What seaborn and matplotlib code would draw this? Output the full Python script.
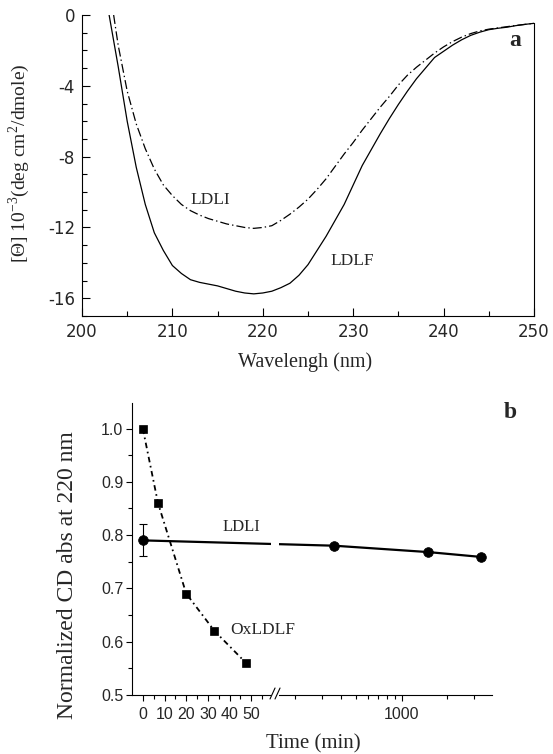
import numpy as np
import matplotlib
matplotlib.use("Agg")
import matplotlib.pyplot as plt
from matplotlib.patches import Rectangle
from matplotlib.ticker import FixedLocator, NullFormatter
import seaborn as sns

# --- panel a: CD spectra ---
wl_ldlf = [203, 204, 205, 206, 207, 208, 209, 210, 211, 212, 213, 214, 215, 216,
           217, 218, 219, 220, 221, 222, 223, 224, 225, 226, 227, 228, 229, 230,
           231, 232, 233, 234, 235, 236, 237, 238, 239, 240, 241, 242, 243, 244,
           245, 246, 247, 248, 249, 250]
cd_ldlf = [0.0, -2.9, -6.0, -8.6, -10.7, -12.3, -13.3, -14.15, -14.6, -14.95, -15.1,
           -15.2, -15.3, -15.45, -15.6, -15.7, -15.75, -15.7, -15.6, -15.4, -15.15,
           -14.7, -14.1, -13.3, -12.5, -11.6, -10.7, -9.6, -8.5, -7.6, -6.7, -5.85,
           -5.05, -4.3, -3.6, -3.0, -2.4, -2.05, -1.7, -1.4, -1.15, -0.97, -0.83,
           -0.75, -0.69, -0.6, -0.53, -0.47]

wl_ldli = [203.5, 204, 205, 206, 207, 208, 209, 210, 211, 212, 213, 214, 215, 216,
           217, 218, 219, 220, 221, 222, 223, 224, 225, 226, 227, 228, 229, 230,
           231, 232, 233, 234, 235, 236, 237, 238, 239, 240, 241, 242, 243, 244,
           245, 246, 247, 248, 249, 250]
cd_ldli = [0.0, -1.7, -4.3, -6.15, -7.55, -8.7, -9.6, -10.2, -10.7, -11.05, -11.3,
           -11.5, -11.65, -11.8, -11.9, -12.0, -12.05, -12.0, -11.9, -11.6, -11.25,
           -10.85, -10.4, -9.85, -9.25, -8.55, -7.85, -7.2, -6.5, -5.85, -5.2, -4.6,
           -3.95, -3.4, -2.95, -2.55, -2.15, -1.8, -1.5, -1.25, -1.05, -0.9, -0.8,
           -0.73, -0.66, -0.59, -0.53, -0.47]

# --- panel b: normalized CD at 220 nm vs time ---
ox_time = [0, 7, 20, 33, 47.5]
ox_val = [1.00, 0.86, 0.69, 0.62, 0.56]
ldli_time = [0, 360, 1500, 3300]
ldli_val = [0.79, 0.78, 0.768, 0.759]
ldli_err = [0.03, 0, 0, 0]

SERIF = "Liberation Serif"

sns.set_theme(style="ticks")
plt.rcParams["font.family"] = ["DejaVu Sans"]
plt.rcParams["axes.unicode_minus"] = False
plt.rcParams["lines.scale_dashes"] = False
plt.rcParams["axes.linewidth"] = 0.8
plt.rcParams["axes.edgecolor"] = "black"

fig = plt.figure(figsize=(5.53, 7.54), dpi=100)
W, H = 553, 754
ax1 = fig.add_axes([82 / W, 1 - 316 / H, 452 / W, 301 / H])
ax2 = fig.add_axes([132.4 / W, 1 - 694.8 / H, 359.3 / W, 291.8 / H])

# ---------------- panel a ----------------
sns.lineplot(x=wl_ldlf, y=cd_ldlf, ax=ax1, color="black", lw=0.9,
             estimator=None, sort=False)
sns.lineplot(x=wl_ldli, y=cd_ldli, ax=ax1, color="black", lw=0.9,
             estimator=None, sort=False, linestyle=(0, (6.5, 2.2, 1, 2.2)))

ax1.set_xlim(200, 250)
ax1.set_ylim(-17, 0)
ax1.set_xticks(range(200, 251, 10))
ax1.set_xticks(range(205, 250, 10), minor=True)
ax1.set_yticks([0, -4, -8, -12, -16])
ax1.set_yticks([v for v in range(-17, 0) if v % 4 != 0], minor=True)
ax1.tick_params(which="both", direction="in", top=False, right=False,
                width=0.8, color="black", labelsize=12, pad=5)
ax1.tick_params(which="major", length=6)
ax1.tick_params(which="minor", length=3.5)
for lbl in ax1.get_xticklabels() + ax1.get_yticklabels():
    lbl.set_fontfamily("DejaVu Sans")
ax1.spines["top"].set_visible(False)
ax1.spines["right"].set_bounds(-17, -0.45)

ax1.set_xlabel("Wavelengh (nm)", fontfamily=SERIF, fontsize=14.5, va="top")
ax1.xaxis.set_label_coords(0.494, -0.12)
ax1.set_ylabel(r"[Θ] 10$^{\mathregular{-3}}$(deg cm$^{\mathregular{2}}$/dmole)",
               fontfamily=SERIF, fontsize=14)
ax1.yaxis.set_label_coords(-0.11, 0.508)

ax1.text(214.2, -10.45, "LDLI", fontfamily=SERIF, fontsize=12.5,
         ha="center", va="center")
ax1.text(229.9, -13.9, "LDLF", fontfamily=SERIF, fontsize=12.5,
         ha="center", va="center")

# ---------------- panel b ----------------
# broken time axis: linear 0-58 min, then log above ~160 min
A, T0, GAP, D, T1 = 2.17, 58.6, 10.0, 152.0, 158.3
U0 = A * T0
U1 = U0 + GAP


def fwd(t):
    t = np.asarray(t, dtype=float)
    lin = A * t
    mid = U0 + GAP * (t - T0) / (T1 - T0)
    lg = U1 + D * np.log10(np.clip(t, T1, None) / T1)
    return np.where(t <= T0, lin, np.where(t < T1, mid, lg))


def inv(u):
    u = np.asarray(u, dtype=float)
    lin = u / A
    mid = T0 + (u - U0) * (T1 - T0) / GAP
    lg = T1 * 10 ** np.clip((u - U1) / D, -5, 5)
    return np.where(u <= U0, lin, np.where(u < U1, mid, lg))


sns.lineplot(x=ox_time, y=ox_val, ax=ax2, color="black", lw=1.3,
             estimator=None, sort=False, linestyle=(0, (4, 2.6, 1.2, 2.6)),
             marker="s", markersize=5.6, markeredgecolor="black",
             markeredgewidth=0.5, zorder=3)
sns.lineplot(x=ldli_time, y=ldli_val, ax=ax2, color="black", lw=1.6,
             estimator=None, sort=False, marker="o", markersize=7,
             markeredgecolor="black", markeredgewidth=0.5, zorder=3)
ax2.errorbar(ldli_time[:1], ldli_val[:1], yerr=ldli_err[:1], fmt="none",
             ecolor="black", elinewidth=0.8, capsize=2.6, capthick=0.8, zorder=2)

ax2.set_xscale("function", functions=(fwd, inv))
ax2.set_xlim(-4.8, 3908)
ax2.set_ylim(0.5, 1.048)

major_t = [0, 10, 20, 30, 40, 50, 1000]
minor_t = [-5, 5, 15, 25, 35, 45, 55, 200, 300, 400, 500, 600, 700, 800, 900,
           2000, 3000]
ax2.xaxis.set_major_locator(FixedLocator(major_t))
ax2.set_xticklabels([str(v) for v in major_t])
ax2.xaxis.set_minor_locator(FixedLocator(minor_t))
ax2.xaxis.set_minor_formatter(NullFormatter())
ax2.set_yticks([0.5, 0.6, 0.7, 0.8, 0.9, 1.0])
ax2.set_yticklabels(["0.5", "0.6", "0.7", "0.8", "0.9", "1.0"])
ax2.set_yticks([0.55, 0.65, 0.75, 0.85, 0.95], minor=True)
ax2.tick_params(which="both", direction="out", width=0.8, color="black",
                labelsize=11.5, top=False, right=False)
ax2.tick_params(which="major", length=4)
ax2.tick_params(which="minor", length=3.2)
ax2.tick_params(axis="x", pad=5)
ax2.tick_params(axis="y", pad=2.5)
for lbl in ax2.get_xticklabels() + ax2.get_yticklabels():
    lbl.set_fontfamily("Liberation Sans")
ax2.spines["top"].set_visible(False)
ax2.spines["right"].set_visible(False)

# axis break
ax2.add_patch(Rectangle((0.3844, -0.03), 0.0237, 1.03, transform=ax2.transAxes,
                        facecolor="white", edgecolor="none", clip_on=False,
                        zorder=5))
for dx in (0.0, 0.0139):
    ax2.plot([0.383 + dx, 0.397 + dx], [-0.0144, 0.0233], color="black",
             lw=0.8, transform=ax2.transAxes, clip_on=False, zorder=6)

ax2.set_xlabel("Time (min)", fontfamily=SERIF, fontsize=15, va="top")
ax2.xaxis.set_label_coords(0.503, -0.134)
ax2.set_ylabel("Normalized CD abs at 220 nm", fontfamily=SERIF, fontsize=17)
ax2.yaxis.set_label_coords(-0.151, 0.41)

ax2.text(45.2, 0.815, "LDLI", fontfamily=SERIF, fontsize=12, ha="center",
         va="center", zorder=7)
ax2.text(40.2, 0.6216, "OxLDLF", fontfamily=SERIF, fontsize=12.5, ha="left",
         va="center", zorder=7)

fig.text(515 / W, 1 - 40 / H, "a", fontfamily=SERIF, fontweight="bold",
         fontsize=17, ha="center", va="center")
fig.text(510 / W, 1 - 413 / H, "b", fontfamily=SERIF, fontweight="bold",
         fontsize=17, ha="center", va="center")

fig.savefig("out.png", dpi=100, facecolor="white")
